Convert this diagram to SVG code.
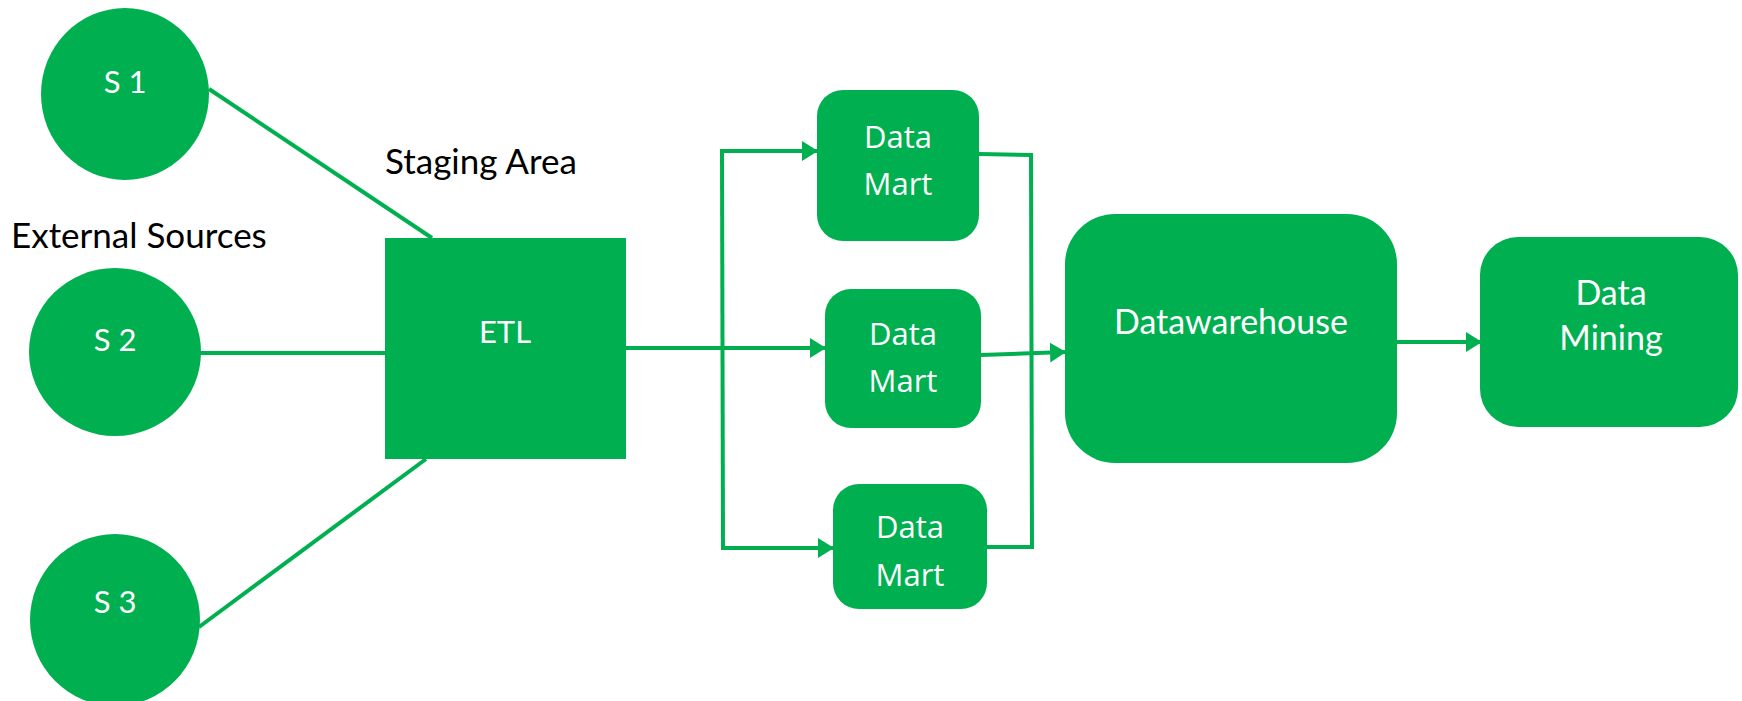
<svg xmlns="http://www.w3.org/2000/svg" width="1742" height="701" viewBox="0 0 1742 701">
  <style>
    .shape { fill: #00B050; }
    .wire { fill: none; stroke: #00B050; stroke-width: 4; }
    .lbl { font-family: Lato, "Open Sans", sans-serif; fill: #ffffff; text-anchor: middle; }
    .mart { font-family: "Open Sans", "Noto Sans", sans-serif; fill: #ffffff; text-anchor: middle; font-size: 31px; }
    .note { font-family: Lato, "Open Sans", sans-serif; fill: #000000; font-size: 35px; }
  </style>
  <defs>
    <marker id="arrow" markerUnits="userSpaceOnUse" markerWidth="16" markerHeight="20" refX="15" refY="10" orient="auto">
      <path d="M0,0 L16,10 L0,20 z" fill="#00B050"/>
    </marker>
  </defs>
  <rect width="1742" height="701" fill="#ffffff"/>

  <!-- connectors -->
  <g id="connectors">
    <line class="wire" x1="209" y1="89" x2="432" y2="238"/>
    <line class="wire" x1="200" y1="353" x2="385" y2="353"/>
    <line class="wire" x1="199" y1="627" x2="426" y2="459"/>
    <line class="wire" x1="626" y1="348" x2="825" y2="348" marker-end="url(#arrow)"/>
    <path class="wire" d="M722,151 L723,548"/>
    <line class="wire" x1="720" y1="151" x2="817" y2="151" marker-end="url(#arrow)"/>
    <line class="wire" x1="721" y1="548" x2="833" y2="548" marker-end="url(#arrow)"/>
    <path class="wire" d="M979,154 L1031,155 L1032,547 L987,547"/>
    <line class="wire" x1="981" y1="355" x2="1065" y2="352" marker-end="url(#arrow)"/>
    <line class="wire" x1="1397" y1="342" x2="1481" y2="342" marker-end="url(#arrow)"/>
  </g>

  <!-- captions -->
  <text class="note" x="385" y="174">Staging Area</text>
  <text class="note" x="11" y="248">External Sources</text>

  <g id="s1">
    <ellipse class="shape" cx="125" cy="94" rx="84" ry="86"/>
    <text class="lbl" x="125" y="93" font-size="31">S 1</text>
  </g>
  <g id="s2">
    <ellipse class="shape" cx="115" cy="352" rx="86" ry="84"/>
    <text class="lbl" x="115" y="351" font-size="31">S 2</text>
  </g>
  <g id="s3">
    <ellipse class="shape" cx="115" cy="620" rx="85" ry="86"/>
    <text class="lbl" x="115" y="613" font-size="31">S 3</text>
  </g>

  <g id="etl">
    <rect class="shape" x="385" y="238" width="241" height="221"/>
    <text class="lbl" x="505" y="343" font-size="31">ETL</text>
  </g>

  <g id="mart1">
    <rect class="shape" x="817" y="90" width="162" height="151" rx="26"/>
    <text class="mart" x="898" y="148">Data</text>
    <text class="mart" x="898" y="195">Mart</text>
  </g>
  <g id="mart2">
    <rect class="shape" x="825" y="289" width="156" height="139" rx="26"/>
    <text class="mart" x="903" y="345">Data</text>
    <text class="mart" x="903" y="392">Mart</text>
  </g>
  <g id="mart3">
    <rect class="shape" x="833" y="484" width="154" height="125" rx="26"/>
    <text class="mart" x="910" y="538">Data</text>
    <text class="mart" x="910" y="586">Mart</text>
  </g>

  <g id="warehouse">
    <rect class="shape" x="1065" y="214" width="332" height="249" rx="50"/>
    <text class="lbl" x="1231" y="334" font-size="34">Datawarehouse</text>
  </g>

  <g id="mining">
    <rect class="shape" x="1480" y="237" width="258" height="190" rx="38"/>
    <text class="lbl" x="1611" y="305" font-size="34">Data</text>
    <text class="lbl" x="1611" y="350" font-size="34">Mining</text>
  </g>
</svg>
